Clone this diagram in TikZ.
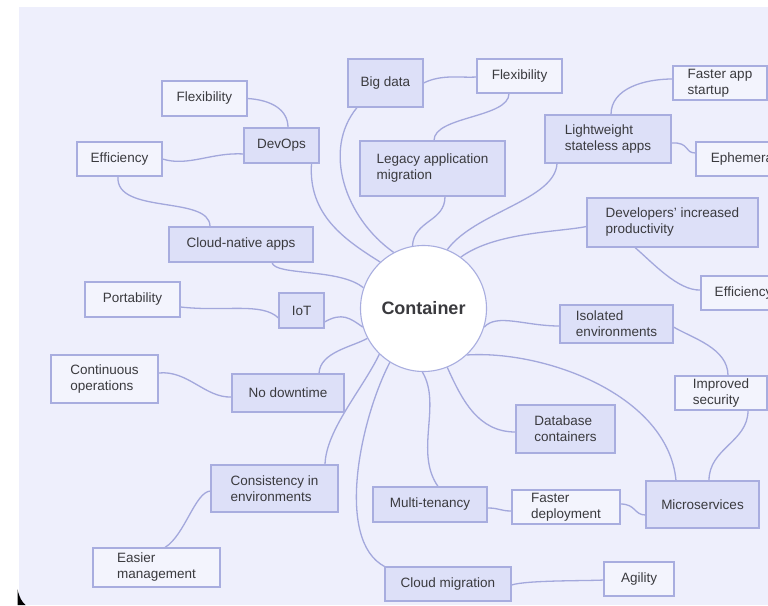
\documentclass[tikz,border=0pt]{standalone}
\usepackage{fontspec}
\setmainfont{Liberation Sans}
\definecolor{bgc}{RGB}{238,239,252}
\definecolor{pfill}{RGB}{221,224,248}
\definecolor{sfill}{RGB}{243,244,253}
\definecolor{bord}{RGB}{168,173,223}
\definecolor{conn}{RGB}{163,168,220}
\definecolor{txt}{RGB}{58,58,62}
\pgfdeclarelayer{bglayer}
\pgfdeclarelayer{linelayer}
\pgfsetlayers{bglayer,linelayer,main}
\begin{document}
\begin{tikzpicture}[x=1pt,y=-1pt,
  box/.style={draw=bord, line width=1.1pt, inner sep=0pt, align=left, text=txt, font=\fontsize{13.5}{16}\selectfont},
  prim/.style={box, fill=pfill},
  sec/.style={box, fill=sfill},
  cn/.style={draw=conn, line width=1.3pt},
]
\useasboundingbox (0,0) rectangle (768,605);
\begin{pgfonlayer}{bglayer}
\fill[white] (0,0) rectangle (768,605);
\fill[bgc] (19,7) rectangle (768,605);
\fill[black] (17.5,589) .. controls (19,597) and (22,602) .. (25.5,605) -- (17.5,605) -- cycle;
\end{pgfonlayer}

% centre
\node[circle, fill=white, draw=bord, line width=1.1pt, minimum size=126pt, inner sep=0pt,
      font=\fontsize{18}{20}\selectfont\bfseries, text=txt] (c) at (423.5,308.5) {Container};

% primary nodes
\node[prim, minimum width=75pt,  minimum height=48pt] (bigdata) at (385.5,83) {Big data};
\node[prim, minimum width=75pt,  minimum height=35pt] (devops) at (281.5,145.5) {DevOps};
\node[prim, minimum width=145pt, minimum height=55pt] (legacy) at (432.5,168.5) {Legacy application\\migration};
\node[prim, minimum width=126pt, minimum height=48pt] (light) at (608,139) {Lightweight\\stateless apps};
\node[prim, minimum width=144pt, minimum height=35pt] (cloudnative) at (241,244.5) {Cloud-native apps};
\node[prim, minimum width=45pt,  minimum height=35pt] (iot) at (301.5,310.5) {IoT};
\node[prim, minimum width=112pt, minimum height=38pt] (nodown) at (288,393) {No downtime};
\node[prim, minimum width=171pt, minimum height=49pt] (dev) at (672.5,222.5) {Developers’ increased\\productivity};
\node[prim, minimum width=113pt, minimum height=38pt] (isolated) at (616.5,324) {Isolated\\environments};
\node[prim, minimum width=99pt,  minimum height=48pt] (database) at (565.5,429) {Database\\containers};
\node[prim, minimum width=127pt, minimum height=47pt] (consistency) at (274.5,488.5) {Consistency in\\environments};
\node[prim, minimum width=114pt, minimum height=35pt] (multi) at (430,504.5) {Multi-tenancy};
\node[prim, minimum width=113pt, minimum height=47pt] (micro) at (702.5,504.5) {Microservices};
\node[prim, minimum width=126pt, minimum height=34pt] (cloudmig) at (448,584) {Cloud migration};

% secondary nodes
\node[sec, minimum width=85pt,  minimum height=35pt] (flex1) at (204.5,98.5) {Flexibility};
\node[sec, minimum width=85pt,  minimum height=34pt] (eff1) at (119.5,159) {Efficiency};
\node[sec, minimum width=85pt,  minimum height=34pt] (flex2) at (519.5,76) {Flexibility};
\node[sec, minimum width=94pt,  minimum height=34pt] (faster) at (720,83) {Faster app\\startup};
\node[sec, minimum width=95pt,  minimum height=34pt] (ephemeral) at (743.5,159) {Ephemeral};
\node[sec, minimum width=85pt,  minimum height=34pt] (eff2) at (743.5,293) {Efficiency};
\node[sec, minimum width=95pt,  minimum height=35pt] (portability) at (132.5,299.5) {Portability};
\node[sec, minimum width=107pt, minimum height=48pt] (continuous) at (104.5,379) {Continuous\\operations};
\node[sec, minimum width=92pt,  minimum height=34pt] (improved) at (721,393) {Improved\\security};
\node[sec, minimum width=108pt, minimum height=34pt] (fasterdep) at (566,507) {Faster\\deployment};
\node[sec, minimum width=70pt,  minimum height=34pt] (agility) at (639,579) {Agility};
\node[sec, minimum width=127pt, minimum height=39pt] (easier) at (156.5,567.5) {Easier\\management};

\begin{pgfonlayer}{linelayer}
% from the centre
\draw[cn] ([xshift=30pt]devops.south) .. controls (308,215) and (345,240) .. (c.133);
\draw[cn] ([xshift=-28.5pt]bigdata.south) .. controls (322,150) and (345,218) .. (c.118);
\draw[cn] ([xshift=12.5pt]legacy.south) .. controls (445,222) and (414,220) .. (c.100);
\draw[cn] ([xshift=-51pt]light.south) .. controls (555,200) and (475,212) .. (c.68);
\draw[cn] ([yshift=-4pt]dev.west) .. controls (560,232) and (495,232) .. (c.54);
\draw[cn] (c.-17) .. controls (497,313) and (525,326) .. ([yshift=-2pt]isolated.west);
\draw[cn] (c.-47) .. controls (545,350) and (668,395) .. ([xshift=-26.5pt]micro.north);
\draw[cn] (c.-68) .. controls (462,400) and (478,432) .. ([yshift=-3pt]database.west);
\draw[cn] (c.-91) .. controls (442,405) and (414,452) .. ([xshift=8pt]multi.north);
\draw[cn] (c.-122) .. controls (360,420) and (335,540) .. (cloudmig.north west);
\draw[cn] (c.-134) .. controls (362,390) and (326,430) .. ([xshift=50.5pt]consistency.north);
\draw[cn] (c.-152) .. controls (352,347) and (320,352) .. ([xshift=31pt]nodown.north);
\draw[cn] ([yshift=-11.5pt]iot.east) .. controls (342,312) and (350,318) .. (c.-163);
\draw[cn] ([xshift=31pt]cloudnative.south) .. controls (275,276) and (340,268) .. (c.161);
% secondary links
\draw[cn] (flex1.east) .. controls (272,100) and (288,110) .. ([xshift=6.5pt]devops.north);
\draw[cn] (eff1.east) .. controls (188,167) and (212,152) .. ([yshift=-8.5pt]devops.west);
\draw[cn] ([xshift=-1.5pt]eff1.south) .. controls (115,215) and (210,195) .. ([xshift=-31pt]cloudnative.north);
\draw[cn] (bigdata.east) .. controls (442,74) and (460,78) .. ([yshift=-1pt]flex2.west);
\draw[cn] ([xshift=-10.5pt]flex2.south) .. controls (509,118) and (434,116) .. ([xshift=1.5pt]legacy.north);
\draw[cn] ([xshift=3pt]light.north) .. controls (611,88) and (645,79) .. ([yshift=4pt]faster.west);
\draw[cn] ([yshift=-4pt]light.east) .. controls (690,142) and (684,153) .. ([yshift=6pt]ephemeral.west);
\draw[cn] ([xshift=-37.5pt]dev.south) .. controls (652,262) and (678,291) .. ([yshift=3pt]eff2.west);
\draw[cn] ([yshift=-7.5pt]portability.east) .. controls (225,312) and (262,302) .. ([yshift=-7.5pt]iot.west);
\draw[cn] ([yshift=6pt]continuous.east) .. controls (188,370) and (205,398) .. ([yshift=-4pt]nodown.west);
\draw[cn] ([yshift=-2.5pt]consistency.west) .. controls (195,492) and (185,535) .. ([xshift=8.5pt]easier.north);
\draw[cn] ([yshift=-3pt]isolated.east) .. controls (692,338) and (728,348) .. ([xshift=7pt]improved.north);
\draw[cn] ([xshift=27pt]improved.south) .. controls (748,442) and (709,448) .. ([xshift=6.5pt]micro.north);
\draw[cn] ([yshift=-3.5pt]multi.east) .. controls (500,508) and (500,511) .. ([yshift=-4pt]fasterdep.west);
\draw[cn] ([yshift=3pt]fasterdep.east) .. controls (636,504) and (634,515) .. ([yshift=-10.5pt]micro.west);
\draw[cn] ([yshift=-1pt]cloudmig.east) .. controls (527,580) and (588,581) .. ([yshift=-1pt]agility.west);
\end{pgfonlayer}
\end{tikzpicture}
\end{document}
